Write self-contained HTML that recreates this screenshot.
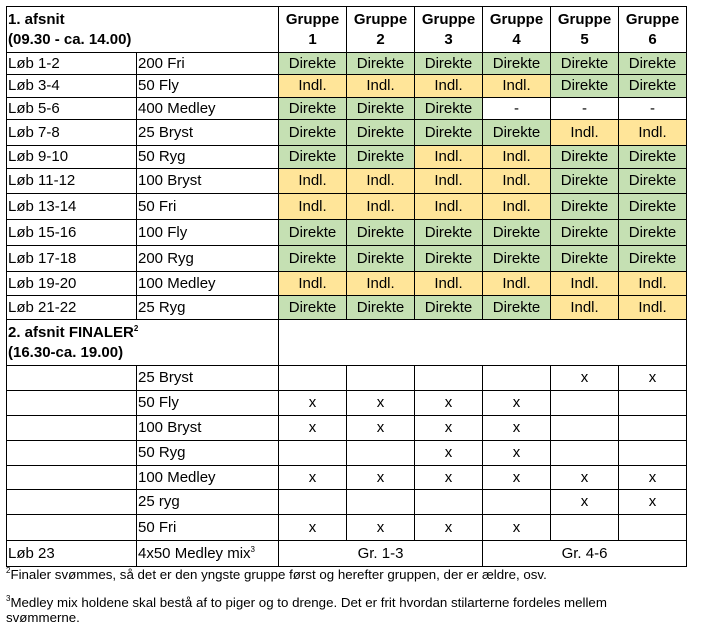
<!DOCTYPE html>
<html><head><meta charset="utf-8"><style>
body{margin:0;background:#fff;width:701px;height:631px;overflow:hidden;font-family:"Liberation Sans",Arial,sans-serif;color:#000}
table{position:absolute;left:6px;top:6px;border-collapse:collapse;table-layout:fixed;font-size:15px}
td{border:1px solid #000;padding:0 1px;white-space:nowrap;overflow:hidden;line-height:16px}
td.c{text-align:center}
.g{background:#c5e0b3;text-align:center}
.y{background:#ffe599;text-align:center}
.b{font-weight:bold}
sup{font-size:8px;vertical-align:6px;line-height:0}
.f{position:absolute;left:6px;font-size:13.3px;font-family:"Liberation Sans",Arial,sans-serif}
</style></head><body>
<table>
<colgroup><col style="width:130px"><col style="width:142px"><col style="width:68px"><col style="width:68px"><col style="width:68px"><col style="width:68px"><col style="width:68px"><col style="width:68px"></colgroup>
<tr style="height:46px"><td colspan="2" class="b" style="line-height:20px">1. afsnit<br>(09.30 - ca. 14.00)</td><td class="c b" style="line-height:20px">Gruppe<br>1</td><td class="c b" style="line-height:20px">Gruppe<br>2</td><td class="c b" style="line-height:20px">Gruppe<br>3</td><td class="c b" style="line-height:20px">Gruppe<br>4</td><td class="c b" style="line-height:20px">Gruppe<br>5</td><td class="c b" style="line-height:20px">Gruppe<br>6</td></tr>
<tr style="height:22px"><td>Løb 1-2</td><td>200 Fri</td><td class="g">Direkte</td><td class="g">Direkte</td><td class="g">Direkte</td><td class="g">Direkte</td><td class="g">Direkte</td><td class="g">Direkte</td></tr>
<tr style="height:23px"><td>Løb 3-4</td><td>50 Fly</td><td class="y">Indl.</td><td class="y">Indl.</td><td class="y">Indl.</td><td class="y">Indl.</td><td class="g">Direkte</td><td class="g">Direkte</td></tr>
<tr style="height:22px"><td>Løb 5-6</td><td>400 Medley</td><td class="g">Direkte</td><td class="g">Direkte</td><td class="g">Direkte</td><td class="c">-</td><td class="c">-</td><td class="c">-</td></tr>
<tr style="height:26px"><td>Løb 7-8</td><td>25 Bryst</td><td class="g">Direkte</td><td class="g">Direkte</td><td class="g">Direkte</td><td class="g">Direkte</td><td class="y">Indl.</td><td class="y">Indl.</td></tr>
<tr style="height:23px"><td>Løb 9-10</td><td>50 Ryg</td><td class="g">Direkte</td><td class="g">Direkte</td><td class="y">Indl.</td><td class="y">Indl.</td><td class="g">Direkte</td><td class="g">Direkte</td></tr>
<tr style="height:25px"><td>Løb 11-12</td><td>100 Bryst</td><td class="y">Indl.</td><td class="y">Indl.</td><td class="y">Indl.</td><td class="y">Indl.</td><td class="g">Direkte</td><td class="g">Direkte</td></tr>
<tr style="height:26px"><td>Løb 13-14</td><td>50 Fri</td><td class="y">Indl.</td><td class="y">Indl.</td><td class="y">Indl.</td><td class="y">Indl.</td><td class="g">Direkte</td><td class="g">Direkte</td></tr>
<tr style="height:26px"><td>Løb 15-16</td><td>100 Fly</td><td class="g">Direkte</td><td class="g">Direkte</td><td class="g">Direkte</td><td class="g">Direkte</td><td class="g">Direkte</td><td class="g">Direkte</td></tr>
<tr style="height:26px"><td>Løb 17-18</td><td>200 Ryg</td><td class="g">Direkte</td><td class="g">Direkte</td><td class="g">Direkte</td><td class="g">Direkte</td><td class="g">Direkte</td><td class="g">Direkte</td></tr>
<tr style="height:24px"><td>Løb 19-20</td><td>100 Medley</td><td class="y">Indl.</td><td class="y">Indl.</td><td class="y">Indl.</td><td class="y">Indl.</td><td class="y">Indl.</td><td class="y">Indl.</td></tr>
<tr style="height:24px"><td>Løb 21-22</td><td>25 Ryg</td><td class="g">Direkte</td><td class="g">Direkte</td><td class="g">Direkte</td><td class="g">Direkte</td><td class="y">Indl.</td><td class="y">Indl.</td></tr>
<tr style="height:46px"><td colspan="2" class="b" style="line-height:20px">2. afsnit FINALER<sup>2</sup><br>(16.30-ca. 19.00)</td><td colspan="6"></td></tr>
<tr style="height:25px"><td></td><td>25 Bryst</td><td></td><td></td><td></td><td></td><td class="c">x</td><td class="c">x</td></tr>
<tr style="height:25px"><td></td><td>50 Fly</td><td class="c">x</td><td class="c">x</td><td class="c">x</td><td class="c">x</td><td></td><td></td></tr>
<tr style="height:25px"><td></td><td>100 Bryst</td><td class="c">x</td><td class="c">x</td><td class="c">x</td><td class="c">x</td><td></td><td></td></tr>
<tr style="height:25px"><td></td><td>50 Ryg</td><td></td><td></td><td class="c">x</td><td class="c">x</td><td></td><td></td></tr>
<tr style="height:24px"><td></td><td>100 Medley</td><td class="c">x</td><td class="c">x</td><td class="c">x</td><td class="c">x</td><td class="c">x</td><td class="c">x</td></tr>
<tr style="height:25px"><td></td><td>25 ryg</td><td></td><td></td><td></td><td></td><td class="c">x</td><td class="c">x</td></tr>
<tr style="height:26px"><td></td><td>50 Fri</td><td class="c">x</td><td class="c">x</td><td class="c">x</td><td class="c">x</td><td></td><td></td></tr>
<tr style="height:26px"><td>Løb 23</td><td>4x50 Medley mix<sup>3</sup></td><td colspan="3" class="c">Gr. 1-3</td><td colspan="3" class="c">Gr. 4-6</td></tr>
</table>
<div class="f" style="top:567px"><sup>2</sup>Finaler svømmes, så det er den yngste gruppe først og herefter gruppen, der er ældre, osv.</div>
<div class="f" style="top:595px;line-height:15px"><sup>3</sup>Medley mix holdene skal bestå af to piger og to drenge. Det er frit hvordan stilarterne fordeles mellem<br>svømmerne.</div>
</body></html>
